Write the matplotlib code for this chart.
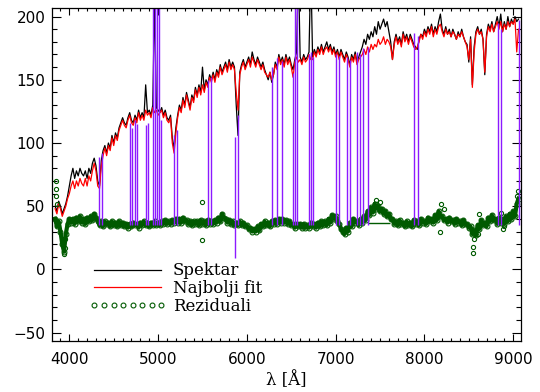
"""Spektar galaksije s najboljim fitom i rezidualima."""

import matplotlib

matplotlib.use("Agg")
import matplotlib.pyplot as plt
import numpy as np

# valna duljina (Å), korak 20 Å; svaki red ispod pokriva 200 Å
wave = np.arange(3840, 9061, 20)

spektar = [
    50, 46, 54, 50, 44, 48, 52, 58, 66, 74,            # 3840
    80, 72, 78, 74, 80, 76, 74, 78, 72, 80,            # 4040
    76, 84, 88, 82, 70, 66, 86, 94, 98, 92,            # 4240
    100, 96, 106, 100, 108, 104, 112, 116, 120, 116,   # 4440
    114, 120, 124, 118, 116, 122, 118, 126, 120, 124,  # 4640
    120, 146, 124, 126, 122, 130, 215, 128, 126, 124,  # 4840
    128, 122, 126, 120, 118, 122, 104, 96, 112, 122,   # 5040
    130, 126, 136, 130, 140, 134, 128, 138, 134, 144,  # 5240
    138, 146, 140, 160, 142, 150, 146, 154, 150, 156,  # 5440
    150, 158, 154, 162, 156, 160, 164, 158, 166, 160,  # 5640
    164, 160, 130, 106, 156, 162, 166, 160, 164, 168,  # 5840
    162, 172, 166, 162, 168, 164, 160, 164, 158, 154,  # 6040
    150, 156, 148, 154, 164, 160, 170, 164, 168, 162,  # 6240
    170, 164, 168, 162, 158, 166, 172, 240, 168, 164,  # 6440
    170, 166, 168, 172, 240, 168, 174, 170, 176, 172,  # 6640
    178, 172, 176, 180, 174, 178, 172, 176, 170, 174,  # 6840
    168, 174, 170, 166, 172, 168, 162, 170, 166, 172,  # 7040
    164, 168, 172, 176, 182, 178, 186, 182, 188, 184,  # 7240
    192, 186, 196, 190, 194, 198, 192, 196, 188, 180,  # 7440
    166, 180, 186, 180, 184, 178, 188, 182, 186, 180,  # 7640
    186, 182, 178, 176, 174, 182, 186, 184, 190, 186,  # 7840
    192, 188, 194, 186, 192, 188, 196, 202, 190, 186,  # 8040
    192, 186, 190, 184, 190, 186, 182, 188, 184, 190,  # 8240
    184, 180, 178, 164, 184, 146, 176, 188, 192, 186,  # 8440
    190, 182, 154, 186, 194, 190, 196, 188, 194, 200,  # 8640
    192, 202, 188, 196, 190, 200, 192, 198, 194, 200,  # 8840
    196, 198,                                          # 9040
]

najbolji_fit = [
    48, 44, 52, 48, 42, 46, 50, 56, 60, 66,            # 3840
    70, 64, 70, 66, 72, 68, 66, 72, 66, 74,            # 4040
    70, 78, 84, 78, 66, 64, 82, 90, 96, 90,            # 4240
    98, 94, 104, 98, 106, 102, 110, 114, 118, 114,     # 4440
    112, 118, 122, 116, 114, 120, 116, 124, 118, 122,  # 4640
    118, 126, 122, 124, 120, 128, 124, 126, 122, 124,  # 4840
    126, 120, 124, 118, 116, 120, 100, 92, 108, 120,   # 5040
    128, 124, 134, 128, 138, 132, 126, 136, 132, 142,  # 5240
    136, 144, 138, 146, 140, 148, 144, 152, 148, 154,  # 5440
    148, 156, 152, 160, 154, 158, 162, 156, 164, 158,  # 5640
    162, 158, 140, 126, 154, 160, 164, 158, 162, 166,  # 5840
    160, 168, 164, 160, 166, 162, 158, 162, 156, 154,  # 6040
    152, 156, 150, 154, 162, 158, 168, 162, 166, 160,  # 6240
    168, 162, 166, 160, 152, 164, 168, 164, 166, 162,  # 6440
    168, 164, 166, 170, 166, 166, 172, 168, 174, 170,  # 6640
    176, 170, 174, 176, 172, 176, 170, 174, 168, 172,  # 6840
    166, 172, 168, 164, 170, 166, 160, 168, 164, 170,  # 7040
    162, 166, 168, 170, 174, 170, 176, 172, 178, 174,  # 7240
    178, 176, 182, 178, 180, 184, 178, 182, 180, 176,  # 7440
    166, 178, 184, 178, 182, 176, 186, 180, 184, 178,  # 7640
    184, 180, 176, 174, 176, 180, 186, 182, 188, 184,  # 7840
    190, 186, 192, 184, 190, 186, 192, 194, 188, 184,  # 8040
    190, 186, 188, 184, 188, 186, 182, 186, 184, 188,  # 8240
    184, 180, 176, 166, 182, 144, 172, 186, 190, 186,  # 8440
    188, 182, 156, 184, 192, 188, 194, 188, 192, 196,  # 8640
    190, 196, 188, 194, 190, 196, 192, 196, 194, 198,  # 8840
    172, 190,                                          # 9040
]

reziduali = [
    40, 34, 38, 30, 20, 14, 28, 36, 40, 37,  # 3840
    40, 36, 41, 38, 42, 37, 40, 36, 41, 38,  # 4040
    42, 39, 44, 41, 38, 35, 38, 34, 38, 36,  # 4240
    37, 34, 38, 35, 37, 34, 38, 35, 37, 34,  # 4440
    36, 33, 36, 34, 37, 35, 36, 33, 37, 35,  # 4640
    38, 35, 37, 34, 37, 35, 38, 35, 37, 35,  # 4840
    38, 36, 39, 36, 38, 36, 39, 37, 40, 37,  # 5040
    40, 37, 41, 38, 39, 36, 38, 35, 38, 36,  # 5240
    38, 35, 39, 36, 38, 35, 39, 36, 38, 36,  # 5440
    39, 37, 41, 38, 44, 41, 40, 37, 39, 36,  # 5640
    38, 35, 37, 35, 38, 35, 37, 34, 35, 32,  # 5840
    33, 30, 32, 30, 34, 31, 36, 34, 38, 35,  # 6040
    37, 34, 38, 36, 39, 36, 40, 37, 40, 37,  # 6240
    39, 36, 38, 35, 36, 33, 36, 34, 36, 33,  # 6440
    36, 33, 35, 33, 37, 34, 36, 33, 37, 34,  # 6640
    38, 35, 38, 35, 40, 37, 43, 40, 42, 38,  # 6840
    36, 32, 30, 28, 33, 30, 37, 34, 40, 37,  # 7040
    38, 35, 40, 37, 42, 39, 46, 43, 49, 45,  # 7240
    52, 48, 50, 46, 48, 44, 46, 42, 44, 40,  # 7440
    40, 36, 38, 35, 39, 36, 37, 34, 38, 35,  # 7640
    37, 34, 39, 36, 38, 35, 40, 37, 38, 36,  # 7840
    41, 38, 40, 37, 43, 39, 46, 42, 42, 39,  # 8040
    40, 37, 41, 38, 39, 36, 40, 37, 38, 35,  # 8240
    39, 36, 36, 33, 34, 28, 31, 27, 35, 32,  # 8440
    39, 35, 37, 34, 41, 38, 43, 39, 40, 36,  # 8640
    41, 37, 40, 36, 42, 38, 44, 40, 46, 42,  # 8840
    52, 56,                                  # 9040
]

# pojedinacne tocke reziduala izvan glavnog pojasa
out_wave = [3845, 3850, 3855, 3860, 3945, 3950, 3955, 5495, 5495, 7450,
            7500, 8190, 8220, 8180, 8545, 8550, 8555, 8540, 8600, 8620,
            8860, 8880, 8900, 9040, 9050]
out_rez = [70, 64, 58, 52, 12, 17, 24, 53, 23, 55,
           53, 52, 48, 30, 13, 18, 24, 30, 28, 44,
           45, 32, 34, 58, 62]

# maskirani pikseli (ljubicaste linije)
mask_wave = [4338, 4365, 4684, 4710, 4740, 4766, 4861, 4883, 4940, 4965,
             4988, 5005, 5030, 5179, 5210, 5566, 5593, 5870, 5900, 6279,
             6342, 6392, 6523, 6542, 6561, 6703, 6722, 6748, 7003, 7037,
             7131, 7161, 7243, 7274, 7311, 7360, 7882, 7923, 8824, 8861,
             9062]
mask_top = [89, 92, 116, 112, 118, 115, 114, 116, 210, 210,
            210, 210, 118, 106, 110, 150, 152, 105, 122, 160,
            167, 165, 155, 210, 210, 170, 172, 168, 170, 169,
            168, 166, 172, 170, 175, 176, 187, 185, 195, 190,
            197]
mask_bottom = [35, 35, 35, 35, 35, 35, 35, 35, 35, 35,
               35, 35, 35, 35, 35, 35, 35, 9, 35, 35,
               35, 35, 35, 35, 35, 35, 35, 35, 35, 35,
               35, 35, 35, 35, 35, 35, 35, 35, 35, 35,
               35]

GREEN = "#005a00"
PURPLE = "#8c1aff"

fig = plt.figure(figsize=(5.4, 3.92), dpi=100)
ax = fig.add_axes([0.097, 0.131, 0.867, 0.849])

ax.plot(wave, spektar, color="black", lw=0.9, label="Spektar")
ax.plot(wave, najbolji_fit, color="red", lw=0.9, label="Najbolji fit")
ax.plot(wave, reziduali, color=GREEN, lw=3.0)
ax.plot(wave, reziduali, "o", color=GREEN, ms=3.5, mfc="none", mew=0.8,
        label="Reziduali")
ax.plot(out_wave, out_rez, "o", color=GREEN, ms=3, mfc="none", mew=0.8)
ax.hlines(37, 7360, 7610, color=GREEN, lw=1)
ax.vlines(mask_wave, mask_bottom, mask_top, color=PURPLE, lw=1.0)

ax.set_xlim(3809, 9083)
ax.set_ylim(-56.3, 206.9)
ax.set_xticks(np.arange(4000, 9001, 1000))
ax.set_xticks(np.arange(3900, 9001, 100), minor=True)
ax.set_yticks(np.arange(-50, 201, 50))
ax.set_yticks(np.arange(-50, 201, 10), minor=True)
ax.tick_params(which="both", direction="in", top=True, right=True,
               labelsize=11, width=0.8)
ax.tick_params(axis="x", which="major", length=4.8, pad=8)
ax.tick_params(axis="x", which="minor", length=2.4)
ax.tick_params(axis="y", which="major", length=6.8, pad=5)
ax.tick_params(axis="y", which="minor", length=3.4)
for spine in ax.spines.values():
    spine.set_linewidth(0.9)

ax.set_xlabel("λ [Å]", family="DejaVu Serif", fontsize=12, labelpad=3)

ax.legend(loc="upper left", bbox_to_anchor=(0.065, 0.255), frameon=False,
          prop={"family": "DejaVu Serif", "size": 12}, handlelength=4.6,
          handletextpad=0.4, labelspacing=0.05, numpoints=8,
          borderaxespad=0)

fig.savefig("out.png", dpi=100)
